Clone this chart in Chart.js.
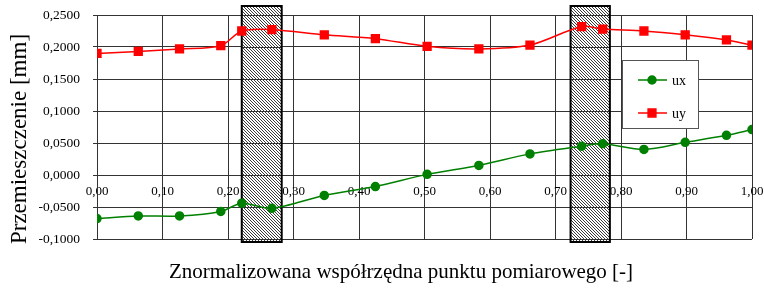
<!DOCTYPE html>
<html>
<head>
<meta charset="utf-8">
<script src="https://cdn.jsdelivr.net/npm/chart.js@4"></script>
<style>
  html, body { margin: 0; padding: 0; background: #fff; }
  #wrap { width: 764px; height: 290px; }
</style>
</head>
<body>
<div id="wrap"><canvas id="myChart"></canvas></div>
<script>
// normalized position of each measuring point
const xs = [0, 0.063, 0.126, 0.189, 0.221, 0.267, 0.347, 0.425, 0.504, 0.583, 0.661, 0.740, 0.772, 0.835, 0.898, 0.961, 1.0];
const ux = [-0.068, -0.064, -0.064, -0.057, -0.044, -0.052, -0.032, -0.018, 0.001, 0.015, 0.033, 0.045, 0.049, 0.040, 0.051, 0.062, 0.071];
const uy = [0.190, 0.193, 0.197, 0.202, 0.225, 0.227, 0.219, 0.213, 0.201, 0.197, 0.203, 0.232, 0.228, 0.225, 0.219, 0.211, 0.203];
// hatched zones (from, to) on the x axis
const zones = [[0.221, 0.282], [0.723, 0.783]];
const seriesNames = ['ux', 'uy'];
const xTitle = 'Znormalizowana współrzędna punktu pomiarowego [-]';
const yTitle = 'Przemieszczenie [mm]';

document.addEventListener('DOMContentLoaded', () => {
    const FONT = "'Liberation Serif', 'Times New Roman', serif";
    const GREEN = '#008000';
    const RED = '#ff0000';
    const GRID = '#333';

    Chart.defaults.color = '#000';
    Chart.defaults.font.family = FONT;

    const fmt = (v, d) => (Math.abs(v) < 1e-9 ? 0 : v).toFixed(d).replace('.', ',');

    // no label overhang padding, the layout padding decides the plot box
    const noPad = s => {
        s.paddingLeft = 0; s.paddingRight = 0;
        s.paddingTop = 0; s.paddingBottom = 0;
    };

    // small diagonal hatch pattern
    const pat = document.createElement('canvas');
    pat.width = 3; pat.height = 3;
    const pc = pat.getContext('2d');
    pc.fillStyle = '#fff';
    pc.fillRect(0, 0, 3, 3);
    pc.strokeStyle = '#3a3a3a';
    pc.lineWidth = 1;
    pc.beginPath();
    pc.moveTo(-1, -1); pc.lineTo(4, 4);
    pc.moveTo(-1, 2); pc.lineTo(1, 4);
    pc.moveTo(2, -1); pc.lineTo(4, 1);
    pc.stroke();

    const extras = {
        id: 'extras',
        beforeDatasetsDraw(chart) {
            const { ctx, chartArea, scales } = chart;
            const top = chartArea.top - 9, bottom = chartArea.bottom + 3;
            ctx.save();
            zones.forEach(([a, b]) => {
                const x1 = scales.x.getPixelForValue(a);
                const x2 = scales.x.getPixelForValue(b);
                ctx.fillStyle = ctx.createPattern(pat, 'repeat');
                ctx.fillRect(x1, top, x2 - x1, bottom - top);
                // keep horizontal grid visible through the hatch
                ctx.strokeStyle = GRID;
                ctx.lineWidth = 1;
                scales.y.ticks.forEach(t => {
                    const y = Math.round(scales.y.getPixelForValue(t.value)) + 0.5;
                    ctx.beginPath();
                    ctx.moveTo(x1, y); ctx.lineTo(x2, y);
                    ctx.stroke();
                });
                ctx.strokeStyle = '#000';
                ctx.lineWidth = 2;
                ctx.strokeRect(x1, top, x2 - x1, bottom - top);
            });
            ctx.restore();
        },
        afterDraw(chart) {
            const { ctx } = chart;
            ctx.save();
            // legend box
            const lx = 622, ly = 60, lw = 76, lh = 68;
            ctx.fillStyle = '#fff';
            ctx.fillRect(lx, ly, lw, lh);
            ctx.strokeStyle = '#555';
            ctx.lineWidth = 1;
            ctx.strokeRect(lx + 0.5, ly + 0.5, lw, lh);
            chart.data.datasets.forEach((ds, i) => {
                const y = ly + 20 + i * 33;
                ctx.strokeStyle = ds.borderColor;
                ctx.lineWidth = 1.5;
                ctx.beginPath();
                ctx.moveTo(lx + 16, y); ctx.lineTo(lx + 45, y);
                ctx.stroke();
                ctx.fillStyle = ds.backgroundColor;
                Chart.helpers.drawPoint(ctx, { pointStyle: ds.pointStyle, radius: ds.pointRadius, borderWidth: 1 }, lx + 30, y);
                ctx.fillStyle = '#000';
                ctx.font = '14px ' + FONT;
                ctx.textBaseline = 'middle';
                ctx.textAlign = 'left';
                ctx.fillText(ds.label, lx + 50, y + 1);
            });
            // axis titles
            ctx.fillStyle = '#000';
            ctx.font = '21px ' + FONT;
            ctx.textAlign = 'center';
            ctx.textBaseline = 'middle';
            ctx.fillText(xTitle, 401, 272);
            ctx.translate(20, 139);
            ctx.rotate(-Math.PI / 2);
            ctx.font = '23px ' + FONT;
            ctx.fillText(yTitle, 0, 0);
            ctx.restore();
        }
    };

    const ctx = document.getElementById('myChart').getContext('2d');
    new Chart(ctx, {
        type: 'line',
        data: {
            datasets: [
                {
                    label: seriesNames[0],
                    data: xs.map((x, i) => ({ x: x, y: ux[i] })),
                    borderColor: GREEN,
                    backgroundColor: GREEN,
                    borderWidth: 1.5,
                    pointStyle: 'circle',
                    pointRadius: 4,
                    tension: 0.3
                },
                {
                    label: seriesNames[1],
                    data: xs.map((x, i) => ({ x: x, y: uy[i] })),
                    borderColor: RED,
                    backgroundColor: RED,
                    borderWidth: 1.5,
                    pointStyle: 'rect',
                    pointRadius: 5.5,
                    tension: 0.3
                }
            ]
        },
        options: {
            responsive: true,
            maintainAspectRatio: false,
            animation: false,
            layout: { padding: { top: 15, right: 12, bottom: 51, left: 0 } },
            plugins: {
                legend: { display: false },
                tooltip: { enabled: false }
            },
            scales: {
                x: {
                    type: 'linear',
                    position: { y: 0 },
                    min: 0,
                    max: 1,
                    afterFit: s => { s.height = 0; noPad(s); },
                    grid: { color: GRID, drawTicks: false },
                    border: { display: false },
                    ticks: {
                        stepSize: 0.1,
                        padding: 9,
                        font: { size: 13 },
                        maxRotation: 0,
                        callback: v => fmt(v, 2)
                    }
                },
                y: {
                    min: -0.1,
                    max: 0.25,
                    afterFit: s => { s.width = 97; noPad(s); },
                    grid: { color: GRID, tickLength: 4 },
                    border: { color: GRID },
                    ticks: {
                        stepSize: 0.05,
                        padding: 13,
                        font: { size: 13.5 },
                        callback: v => fmt(v, 4)
                    }
                }
            }
        },
        plugins: [extras]
    });
});
</script>
</body>
</html>
